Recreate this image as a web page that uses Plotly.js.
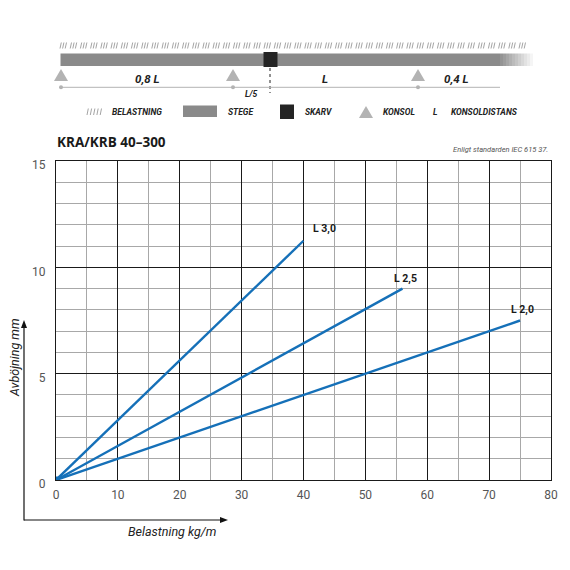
<!DOCTYPE html>
<html><head><meta charset="utf-8">
<script src="https://cdn.plot.ly/plotly-3.0.1.min.js"></script>
<style>html,body{margin:0;padding:0;background:#fff}#chart{width:570px;height:570px}</style>
</head><body><div id="chart"></div>
<script>
// ---- data ----
const seriesNames = ['L 3,0', 'L 2,5', 'L 2,0'];
const startLoad = [0, 0, 0];
const startDeflection = [0, 0, 0];
const endLoad = [40, 56, 75];
const endDeflection = [11.25, 9.0, 7.5];
const xTickVals = [0, 10, 20, 30, 40, 50, 60, 70, 80];
const xTickText = ['0', '10', '20', '30', '40', '50', '60', '70', '80'];
const yTickVals = [0, 5, 10, 15];
const yTickText = ['0', '5', '10', '15'];
const titleText = 'KRA/KRB 40–300';
const noteText = 'Enligt standarden IEC 615 37.';
const xTitle = 'Belastning kg/m';
const yTitle = 'Avböjning mm';
const spanLabels = ['0,8 L', 'L', '0,4 L', 'L/5'];
const legendLabels = ['BELASTNING', 'STEGE', 'SKARV', 'KONSOL', 'L', 'KONSOLDISTANS'];

// ---- layout geometry ----
const W = 570, H = 570, ML = 56, MR = 19, MT = 161, MB = 90;
const PW = W - ML - MR, PH = H - MT - MB;
const X = p => (p - ML) / PW;
const Y = p => (H - MB - p) / PH;
const NARROW = 'Roboto, Liberation Sans, sans-serif';
const BLUE = '#1570b8';

const traces = seriesNames.map((n, i) => ({
  type: 'scatter', mode: 'lines', name: n,
  x: [startLoad[i], endLoad[i]], y: [startDeflection[i], endDeflection[i]],
  line: {color: BLUE, width: 2.4}, hoverinfo: 'skip', showlegend: false
}));
traces.push({type: 'scatter', mode: 'markers', x: [startLoad[0]], y: [startDeflection[0]],
  marker: {color: BLUE, size: 7, symbol: 'square'}, showlegend: false, hoverinfo: 'skip'});

const shapes = [];
const annotations = [];
function line(x0, y0, x1, y1, color, width, dash) {
  shapes.push({type: 'line', xref: 'paper', yref: 'paper', x0: X(x0), y0: Y(y0), x1: X(x1), y1: Y(y1),
    line: {color: color, width: width, dash: dash || 'solid'}, layer: 'above'});
}
function rect(x0, y0, x1, y1, fill, opacity) {
  shapes.push({type: 'rect', xref: 'paper', yref: 'paper', x0: X(x0), y0: Y(y0), x1: X(x1), y1: Y(y1),
    fillcolor: fill, opacity: opacity == null ? 1 : opacity, line: {width: 0}, layer: 'above'});
}
function tri(cx, top, bot, half, fill) {
  shapes.push({type: 'path', xref: 'paper', yref: 'paper',
    path: `M ${X(cx - half)},${Y(bot)} L ${X(cx + half)},${Y(bot)} L ${X(cx)},${Y(top)} Z`,
    fillcolor: fill, line: {width: 0}, layer: 'above'});
}
function dot(cx, cy, r, fill) {
  shapes.push({type: 'circle', xref: 'paper', yref: 'paper', x0: X(cx - r), y0: Y(cy - r), x1: X(cx + r), y1: Y(cy + r),
    fillcolor: fill, line: {width: 0}, layer: 'above'});
}
function text(t, x, y, size, opts) {
  opts = opts || {};
  annotations.push({text: t, xref: 'paper', yref: 'paper', x: X(x), y: Y(y), showarrow: false,
    xanchor: opts.xanchor || 'center', yanchor: opts.yanchor || 'middle', textangle: opts.angle || 0,
    font: {family: opts.family || NARROW, size: size, color: opts.color || '#222',
      weight: opts.weight || 'normal', style: opts.style || 'normal'}});
}

// hatched load line
for (let g = 60; g < 528; g += 10.2) {
  for (let k = 0; k < 3; k++) {
    const x = g + k * 2.6;
    line(x, 48.5, x + 1.3, 42.5, '#9a9a9a', 0.9);
  }
}
// ladder bar with fading end
rect(60.5, 53.5, 500, 66, '#8a8a8a');
for (let i = 0; i < 11; i++) {
  rect(500 + i * 3, 53.5, 503 + i * 3, 66, '#8a8a8a', 1 - (i + 1) / 12);
}
// splice
rect(263.5, 52, 277.5, 67, '#242424');
line(270, 68, 270, 93, '#222', 1, 'dot');
// supports
[61, 233, 418].forEach(cx => { tri(cx, 69, 81, 7, '#b3b3b3'); dot(cx, 87.3, 2, '#b3b3b3'); });
line(61, 87.3, 500, 87.3, '#b3b3b3', 1);
text(spanLabels[0], 147, 78.5, 11.5, {weight: 'bold', style: 'italic'});
text(spanLabels[1], 325, 78.5, 11.5, {weight: 'bold', style: 'italic'});
text(spanLabels[2], 456, 78.5, 11.5, {weight: 'bold', style: 'italic'});
text(spanLabels[3], 251, 94, 8.5, {weight: 'bold', style: 'italic'});

// legend row
for (let k = 0; k < 5; k++) { const x = 87 + k * 3.3; line(x, 115, x + 1.3, 108.5, '#9a9a9a', 0.9); }
const LS = 8.5;
text(legendLabels[0], 110, 111.7, LS, {xanchor: 'left', weight: 'bold', style: 'italic'});
rect(183, 105.5, 217, 117, '#8a8a8a');
text(legendLabels[1], 225.5, 111.7, LS, {xanchor: 'left', weight: 'bold', style: 'italic'});
rect(280, 104.5, 294, 119, '#242424');
text(legendLabels[2], 303, 111.7, LS, {xanchor: 'left', weight: 'bold', style: 'italic'});
tri(366, 106, 118, 7, '#b3b3b3');
text(legendLabels[3], 381, 111.7, LS, {xanchor: 'left', weight: 'bold', style: 'italic'});
text(legendLabels[4], 435, 111.7, LS, {weight: 'bold', style: 'italic'});
text(legendLabels[5], 449, 111.7, LS, {xanchor: 'left', weight: 'bold', style: 'italic'});

// titles
text(titleText, 55, 142, 13.5, {xanchor: 'left', family: 'Open Sans, sans-serif', weight: 'bold', color: '#1a1a1a'});
text(noteText, 550, 149.5, 7.5, {xanchor: 'right', style: 'italic', color: '#555'});
text(xTitle, 172, 531, 12.5, {style: 'italic', color: '#222'});
text(yTitle, 14, 358, 12.5, {style: 'italic', angle: -90, color: '#222'});

// axis arrows
shapes.push({type: 'line', xref: 'paper', yref: 'paper', x0: X(24), y0: Y(520.5), x1: X(24), y1: Y(326), line: {color: '#111', width: 1.2}});
shapes.push({type: 'line', xref: 'paper', yref: 'paper', x0: X(24), y0: Y(520), x1: X(222), y1: Y(520), line: {color: '#111', width: 1.2}});
shapes.push({type: 'path', xref: 'paper', yref: 'paper', path: `M ${X(21)},${Y(328)} L ${X(27)},${Y(328)} L ${X(24)},${Y(320)} Z`, fillcolor: '#111', line: {width: 0}});
shapes.push({type: 'path', xref: 'paper', yref: 'paper', path: `M ${X(220)},${Y(517)} L ${X(220)},${Y(523)} L ${X(228)},${Y(520)} Z`, fillcolor: '#111', line: {width: 0}});

// series end labels
const labelShift = [[7, 4], [-11, 2], [-11, 3]];
seriesNames.forEach((n, i) => {
  annotations.push({text: n, x: endLoad[i], y: endDeflection[i], xref: 'x', yref: 'y', showarrow: false,
    xanchor: 'left', yanchor: 'bottom', xshift: labelShift[i][0], yshift: labelShift[i][1],
    font: {family: NARROW, size: 10.5, color: '#1a1a1a', weight: 'bold'}});
});

const layout = {
  width: W, height: H, margin: {l: ML, r: MR, t: MT, b: MB, pad: 0},
  paper_bgcolor: '#fff', plot_bgcolor: '#fff', showlegend: false,
  xaxis: {range: [0, 80], tickmode: 'array', tickvals: xTickVals, ticktext: xTickText,
    showgrid: true, gridcolor: '#1a1a1a', gridwidth: 1, zeroline: false,
    showline: true, mirror: true, linecolor: '#1a1a1a', linewidth: 1, ticks: '',
    ticklabelstandoff: 4,
    tickfont: {family: NARROW, size: 12, color: '#555'},
    minor: {tickmode: 'linear', tick0: 0, dtick: 5, showgrid: true, gridcolor: '#a8a8a8', gridwidth: 1}},
  yaxis: {range: [0, 15], tickmode: 'array', tickvals: yTickVals, ticktext: yTickText,
    showgrid: true, gridcolor: '#1a1a1a', gridwidth: 1, zeroline: false,
    showline: true, mirror: true, linecolor: '#1a1a1a', linewidth: 1, ticks: '',
    ticklabelstandoff: 7, ticklabelshift: 4,
    tickfont: {family: NARROW, size: 12, color: '#555'},
    minor: {tickmode: 'linear', tick0: 0, dtick: 1, showgrid: true, gridcolor: '#a8a8a8', gridwidth: 1}},
  shapes: shapes, annotations: annotations
};
Plotly.newPlot('chart', traces, layout, {staticPlot: true, displayModeBar: false});
</script></body></html>
